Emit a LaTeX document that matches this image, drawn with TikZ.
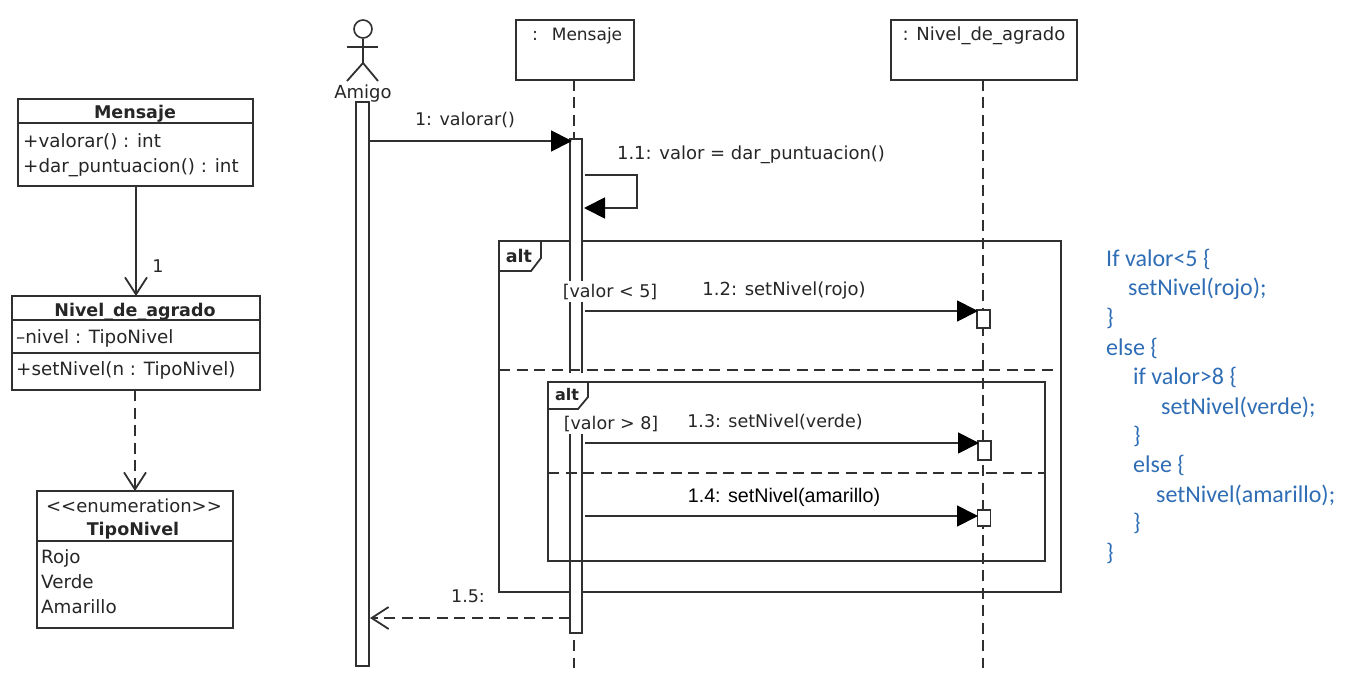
\documentclass[tikz,border=0pt]{standalone}
\usepackage{fontspec}
\setmainfont{DejaVu Sans}
\newfontfamily\codefont{Carlito}
\newfontfamily\helvfont{Liberation Sans}
\usepackage{tikz}
\usetikzlibrary{arrows.meta,positioning}
\definecolor{linegray}{HTML}{303030}
\definecolor{codeblue}{HTML}{2F6DB5}
\tikzset{
	umlbox/.style={draw=linegray, fill=white, line width=1.8pt, inner sep=0pt, outer sep=0pt},
	bar/.style={umlbox, minimum width=13pt},
	txt/.style={inner sep=0pt, anchor=base, font=\fontsize{17.5}{20}\selectfont, text=black!85},
	wide/.style={txt, font=\fontsize{18}{20}\selectfont},
	attr/.style={txt, font=\fontsize{18.3}{20}\selectfont, anchor=base west},
	title/.style={txt, font=\fontsize{17.5}{20}\selectfont\bfseries},
	guard/.style={txt, fill=white, inner ysep=3pt, inner xsep=1pt},
	code/.style={inner sep=0pt, anchor=west, text=codeblue, font=\fontsize{24}{26}\selectfont\codefont},
	line/.style={draw=linegray, line width=1.8pt},
	dashline/.style={line, dash pattern=on 11pt off 6.5pt},
	filled/.style={line, -{Triangle[length=21pt,width=21pt,color=black]}},
	opened/.style={-{Straight Barb[length=17pt,width=22pt]}}
}
\begin{document}
\begin{tikzpicture}[x=1pt,y=-1pt]
	\useasboundingbox (0,0) rectangle (1346,674);

	% class diagram
	\node[umlbox, minimum width=235pt, minimum height=87pt] (mensaje) at (135.5,142.5) {};
	\node[umlbox, minimum width=248pt, minimum height=94pt] (nivel) at (136,343) {};
	\node[umlbox, minimum width=196pt, minimum height=137pt] (tipo) at (135,559.5) {};
	\draw [line] (18,123) -- (253,123);
	\draw [line] (12,320) -- (260,320);
	\draw [line] (12,353) -- (260,353);
	\draw [line] (37,541) -- (233,541);
	\node[title] (mensajeT) at (135,119) {Mensaje};
	\node[attr] (mensajeA) at (23,147) {+valorar() : int};
	\node[attr] (mensajeB) at (23,172) {+dar\_puntuacion() : int};
	\node[title] (nivelT) at (135,316) {Nivel\_de\_agrado};
	\node[attr] (nivelA) at (16,343) {–nivel : TipoNivel};
	\node[attr] (nivelB) at (16,375) {+setNivel(n : TipoNivel)};
	\node[wide] (tipoS) at (134,512) {<{}<enumeration>{}>};
	\node[title] (tipoT) at (133,535) {TipoNivel};
	\node[attr] (tipoA) at (41,563) {Rojo};
	\node[attr] (tipoB) at (41,588) {Verde};
	\node[attr] (tipoC) at (41,613) {Amarillo};
	\node[txt] (multi) at (158,272) {1};
	\coordinate (mensajeS) at (136,186);
	\coordinate (nivelE) at (136,296);
	\coordinate (nivelS) at (135,390);
	\coordinate (tipoE) at (135,491);
	\draw [line, opened] (mensajeS) -- (nivelE);
	\draw [dashline, opened] (nivelS) -- (tipoE);

	% actor
	\node[draw=linegray, line width=1.6pt, circle, minimum size=18pt, inner sep=0pt] (head) at (363,29) {};
	\coordinate (hip) at (363,63);
	\coordinate (armL) at (347,47);
	\coordinate (armR) at (378,47);
	\coordinate (legL) at (347,81);
	\coordinate (legR) at (378,81);
	\draw [line] (head) -- (hip);
	\draw [line] (armL) -- (armR);
	\draw [line] (legL) -- (hip) -- (legR);
	\node[wide] (amigo) at (363,99) {Amigo};

	% lifelines
	\node[umlbox, minimum width=118pt, minimum height=60pt] (msgHead) at (575,50) {};
	\node[umlbox, minimum width=186pt, minimum height=60pt] (nivHead) at (984,50) {};
	\node[txt] (msgDots) at (535,41) {:};
	\node[txt, font=\fontsize{17}{20}\selectfont] (msgName) at (587,41) {Mensaje};
	\node[wide] (nivName) at (984,41) {: Nivel\_de\_agrado};
	\coordinate (msgEnd) at (574,668);
	\coordinate (nivEnd) at (983,668);
	\coordinate (msgTop) at (574,80);
	\coordinate (nivTop) at (983,80);
	\draw [dashline] (msgTop) -- (msgEnd);
	\draw [dashline] (nivTop) -- (nivEnd);

	% outer alt
	\node[draw=linegray, line width=1.8pt, minimum width=562pt, minimum height=351pt, inner sep=0pt] (altA) at (780,416.5) {};
	\draw [line] (499,271) -- (531,271) -- (541,258) -- (541,241);
	\node[title] (altAT) at (519,262) {alt};

	% activations
	\node[bar, minimum height=564pt] (barAmigo) at (362.5,384) {};
	\node[bar, minimum height=494pt, minimum width=12pt] (barMsg) at (576,386) {};
	\node[bar, minimum height=18pt] (barRojo) at (983.5,319) {};
	\node[bar, minimum height=19pt] (barVerde) at (984.5,450.5) {};
	\node[bar, minimum height=16pt] (barAmar) at (984,518) {};

	% outer alt separator and inner alt
	\coordinate (sepAL) at (499,370);
	\coordinate (sepAR) at (1057,370);
	\draw [dashline] (sepAL) -- (sepAR);
	\fill [white] (560,373) rectangle (590,434);
	\node[draw=linegray, line width=2.4pt, minimum width=497pt, minimum height=179pt, inner sep=0pt] (altB) at (796.5,471.5) {};
	\draw [line] (548,409) -- (578,409) -- (588,397) -- (588,382);
	\node[title, font=\fontsize{16}{20}\selectfont\bfseries] (altBT) at (567,400) {alt};
	\coordinate (sepBL) at (548,473);
	\coordinate (sepBR) at (1045,473);
	\draw [dashline] (sepBL) -- (sepBR);

	% messages
	\coordinate (m1s) at (369,141);
	\coordinate (m1e) at (572,141);
	\coordinate (selfA) at (585,175);
	\coordinate (selfB) at (637,175);
	\coordinate (selfC) at (637,208);
	\coordinate (selfD) at (584,208);
	\coordinate (m2s) at (585,311);
	\coordinate (m2e) at (978,311);
	\coordinate (m3s) at (585,443);
	\coordinate (m3e) at (979,443);
	\coordinate (m4s) at (585,516);
	\coordinate (m4e) at (978,516);
	\coordinate (m5s) at (570,618);
	\coordinate (m5e) at (370,618);
	\draw [filled] (m1s) -- (m1e);
	\draw [filled] (selfA) -- (selfB) -- (selfC) -- (selfD);
	\draw [filled] (m2s) -- (m2e);
	\draw [filled] (m3s) -- (m3e);
	\draw [filled] (m4s) -- (m4e);
	\draw [dashline, opened] (m5s) -- (m5e);

	\node[txt] (m1) at (465,125) {1: valorar()};
	\node[wide] (m11) at (751,160) {1.1: valor = dar\_puntuacion()};
	\node[guard] (g1) at (610,297) {[valor < 5]};
	\node[wide] (m12) at (784,295) {1.2: setNivel(rojo)};
	\node[guard] (g2) at (611,429) {[valor > 8]};
	\node[txt] (m13) at (775,427) {1.3: setNivel(verde)};
	\node[txt, text=black, font=\fontsize{19.7}{22}\selectfont\helvfont] (m14) at (784,502) {1.4: setNivel(amarillo)};
	\node[txt] (m15) at (468,602) {1.5:};

	% pseudo code
	\foreach \i/\x/\y/\t in {
		1/1106/259/{If valor<5 \{},
		2/1128/289/{setNivel(rojo);},
		3/1106/318/{\}},
		4/1106/348/{else \{},
		5/1133/377/{if valor>8 \{},
		6/1161/407/{setNivel(verde);},
		7/1133/436/{\}},
		8/1133/465/{else \{},
		9/1156/495/{setNivel(amarillo);},
		10/1133/523/{\}},
		11/1106/553/{\}}}
		\node[code] (code\i) at (\x,\y) {\t};
\end{tikzpicture}
\end{document}
